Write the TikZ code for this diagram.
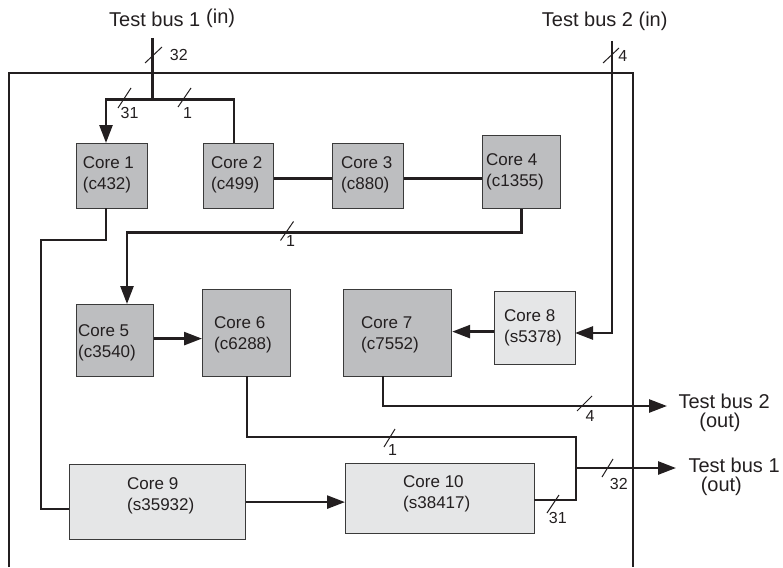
\documentclass[tikz,border=0pt]{standalone}
\usepackage{fontspec}
\setmainfont{Liberation Sans}
\usetikzlibrary{arrows.meta}
\definecolor{darkbox}{HTML}{BDBEC0}
\definecolor{lightbox}{HTML}{E5E6E7}
\definecolor{ink}{HTML}{231F20}
\definecolor{edgec}{HTML}{3A3A3A}
\begin{document}
\begin{tikzpicture}[x=1pt,y=-1pt,
  box/.style={draw=edgec, line width=1.2pt, inner sep=0pt, anchor=north west},
  dbox/.style={box, fill=darkbox},
  lbox/.style={box, fill=lightbox},
  core/.style={anchor=west, align=left, inner sep=0pt, font=\fontsize{17}{21}\selectfont, text=ink},
  bus/.style={draw=ink, line width=2.6pt},
  arr/.style={bus, -{Triangle[length=18pt,width=13pt]}},
  slash/.style={draw=ink, line width=1pt},
  wlabel/.style={inner sep=0pt, font=\fontsize{16}{16}\selectfont, text=ink},
  title/.style={inner sep=0pt, font=\fontsize{20}{24}\selectfont, text=ink},
  frame/.style={draw=ink, line width=2.4pt}
]
\useasboundingbox (0,0) rectangle (783,567);

% outer frame
\coordinate (fbl) at (9,567);
\coordinate (ftl) at (9,73);
\coordinate (ftr) at (633,73);
\coordinate (fbr) at (633,567);
\draw[frame] (fbl) -- (ftl) -- (ftr) -- (fbr);

% core boxes
\node[dbox, minimum width=71pt, minimum height=65pt] (c1) at (76,143) {};
\node[dbox, minimum width=70pt, minimum height=65pt] (c2) at (203,143) {};
\node[dbox, minimum width=71pt, minimum height=65pt] (c3) at (332,143) {};
\node[dbox, minimum width=78pt, minimum height=73pt] (c4) at (482,135) {};
\node[dbox, minimum width=77pt, minimum height=72pt] (c5) at (76,304) {};
\node[dbox, minimum width=88pt, minimum height=87pt] (c6) at (202,289) {};
\node[dbox, minimum width=108pt, minimum height=87pt] (c7) at (343,289) {};
\node[lbox, minimum width=81pt, minimum height=73pt] (c8) at (494,291) {};
\node[lbox, minimum width=176pt, minimum height=75pt] (c9) at (69,464) {};
\node[lbox, minimum width=189pt, minimum height=70pt] (c10) at (345,463) {};

% core texts
\node[core] (t1) at (82.7,175.1) {Core 1\\(c432)};
\node[core] (t2) at (211,175.1) {Core 2\\(c499)};
\node[core] (t3) at (341,175.1) {Core 3\\(c880)};
\node[core] (t4) at (486,171.7) {Core 4\\(c1355)};
\node[core] (t5) at (78,342.4) {Core 5\\(c3540)};
\node[core] (t6) at (214,335.1) {Core 6\\(c6288)};
\node[core] (t7) at (361,335.1) {Core 7\\(c7552)};
\node[core] (t8) at (504,327.7) {Core 8\\(s5378)};
\node[core] (t9) at (127,496.2) {Core 9\\(s35932)};
\node[core] (t10) at (403,493.4) {Core 10\\(s38417)};

% bus titles
\node[title, anchor=base west] (tb1t) at (109,26.7) {Test bus 1};
\node[title, anchor=base west] (tb1i) at (206,23.2) {(in)};
\node[title, anchor=base west] (tb2t) at (541.7,26.7) {Test bus 2 (in)};
\node[title, anchor=base west] (tb2o) at (678.3,408.3) {Test bus 2};
\node[title, anchor=base] (tb2oo) at (720,427.7) {(out)};
\node[title, anchor=base west] (tb1o) at (688.3,472.8) {Test bus 1};
\node[title, anchor=base] (tb1oo) at (721.3,491.5) {(out)};

% connector coordinates
\coordinate (tb1in) at (152.7,38);
\coordinate (j1) at (152.7,99.5);
\coordinate (c1in) at (106,143);
\coordinate (c2in) at (234,143);
\coordinate (c5in) at (127,304);
\coordinate (c1out) at (106,208);
\coordinate (k1) at (41,240);
\coordinate (c9in) at (69,509);
\coordinate (tb2in) at (612,41);
\coordinate (c8in) at (575,333);
\coordinate (c7out) at (383,376);
\coordinate (tb2out) at (667,406);
\coordinate (c6out) at (247,376);
\coordinate (j2a) at (576,437);
\coordinate (c10out) at (534,500);
\coordinate (j2) at (576,468);
\coordinate (tb1out) at (676,468);

% connectors
\draw[bus] (tb1in) -- (j1);
\draw[arr] (j1) -| (c1in);
\draw[bus] (j1) -| (c2in);
\draw[bus] ([yshift=-2.5pt]c2.east) -- ([yshift=-2.5pt]c2.east -| c3.west);
\draw[bus] ([yshift=-2.5pt]c3.east) -- ([yshift=-2.5pt]c3.east -| c4.west);
\draw[arr] (c4.south) -- ++(0,23) -| (c5in);
\draw[bus] (c1out) |- (k1) |- (c9in);
\draw[arr] ([yshift=2pt]c5.east) -- ([yshift=2pt]c5.east -| c6.west);
\draw[arr] (c9.east) -- (c9.east -| c10.west);
\draw[arr] (tb2in) |- (c8in);
\draw[arr] ([yshift=-3.5pt]c8.west) -- ([yshift=-3.5pt]c8.west -| c7.east);
\draw[arr] (c7out) |- (tb2out);
\draw[bus] (c6out) |- (j2a) |- (c10out);
\draw[arr] (j2) -- (tb1out);

% width slashes
\draw[slash] (145,63) -- (162,47);
\draw[slash] (118,108) -- (131,88);
\draw[slash] (178,107) -- (191,88);
\draw[slash] (280.5,240.5) -- (293.5,221.5);
\draw[slash] (577,411) -- (592,396);
\draw[slash] (384,447) -- (395,429);
\draw[slash] (547,513) -- (559,495);
\draw[slash] (602,477) -- (613,459);
\draw[slash] (603,63) -- (619,48);

% width labels
\node[wlabel] (w32a) at (178.8,55) {32};
\node[wlabel] (w31a) at (129.5,113.3) {31};
\node[wlabel] (w1a) at (187.5,113) {1};
\node[wlabel] (w1b) at (290.5,241.3) {1};
\node[wlabel] (w4a) at (590,415.7) {4};
\node[wlabel] (w1c) at (392.5,449.5) {1};
\node[wlabel] (w31b) at (557.8,518.3) {31};
\node[wlabel] (w32b) at (618.8,483.8) {32};
\node[wlabel] (w4b) at (622.8,55.8) {4};
\end{tikzpicture}
\end{document}
